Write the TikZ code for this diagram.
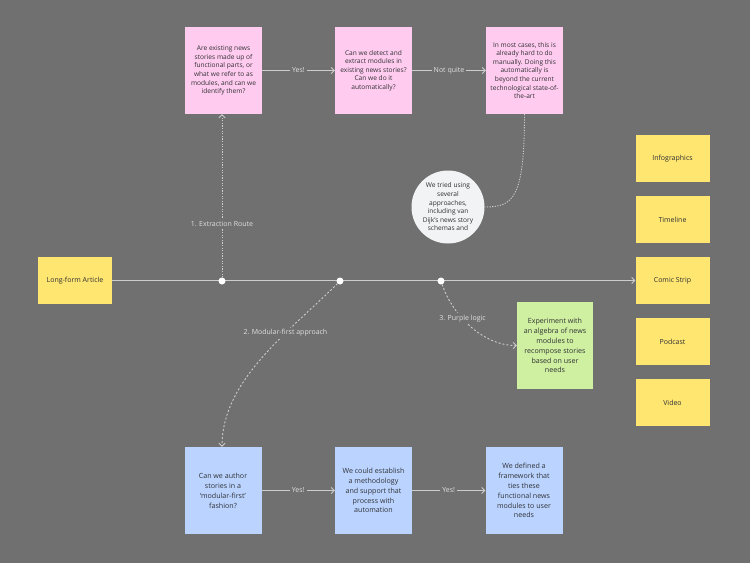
\documentclass[tikz,border=0pt]{standalone}
\usepackage{fontspec}
\setmainfont{Open Sans}
\usetikzlibrary{arrows.meta}
\definecolor{bg}{RGB}{112,112,112}
\definecolor{ink}{RGB}{48,48,52}
\definecolor{wire}{RGB}{205,205,205}
\definecolor{pinkcard}{RGB}{255,204,240}
\definecolor{bluecard}{RGB}{186,212,255}
\definecolor{greencard}{RGB}{206,240,160}
\definecolor{yellowcard}{RGB}{255,230,112}
\definecolor{bubblecol}{RGB}{242,243,245}
\begin{document}
\begin{tikzpicture}[x=1pt,y=-1pt,
  txt/.style={font=\fontsize{6.6}{8.6}\selectfont},
  bigtxt/.style={font=\fontsize{7.1}{9.9}\selectfont},
  lbl/.style={font=\fontsize{7}{8.6}\selectfont},
  card/.style={txt,minimum width=77pt,minimum height=87pt,inner sep=1pt,align=center,text=ink},
  bigcard/.style={card,bigtxt},
  outlet/.style={lbl,fill=yellowcard,minimum width=74pt,minimum height=47pt,inner sep=1pt,text=ink},
  bubble/.style={txt,circle,fill=bubblecol,minimum size=73pt,inner sep=0pt,align=center,text=ink},
  dot/.style={circle,fill=white,inner sep=0pt,minimum size=7pt},
  link/.style={draw=wire,line width=0.9pt,-{Straight Barb[length=3pt,width=6pt]}},
  dashline/.style={link,dash pattern=on 2pt off 2pt},
  dotline/.style={draw=wire,line width=0.9pt,dash pattern=on 1.2pt off 1.4pt},
  tag/.style={lbl,fill=bg,text=white!88!black,inner sep=2pt}]
\fill[bg] (0,0) rectangle (750,563);
\useasboundingbox (0,0) rectangle (750,563);
% top row
\node[card,fill=pinkcard] (q1) at (223.5,70.5) {Are existing news\\stories made up of\\functional parts, or\\what we refer to as\\modules, and can we\\identify them?};
\node[card,fill=pinkcard] (q2) at (373.5,70.5) {Can we detect and\\extract modules in\\existing news stories?\\Can we do it\\automatically?};
\node[card,fill=pinkcard] (q3) at (524.5,70.5) {In most cases, this is\\already hard to do\\manually. Doing this\\automatically is\\beyond the current\\technological state-of-\\the-art};
\draw[link] (q1) -- node[tag] {Yes!} (q2);
\draw[link] (q2) -- node[tag] {Not quite} (q3);
\node[bubble] (tried) at (448,207) {We tried using\\several\\approaches,\\including van\\Dijk's news story\\schemas and};
\draw[dotline] (q3.south) .. controls +(0,85) and +(28,0) .. (tried.east);
% main axis
\node[outlet] (article) at (75,280.5) {Long-form Article};
\foreach \name/\label/\y in {info/Infographics/158.5,time/Timeline/219.5,comic/Comic Strip/280.5,podcast/Podcast/341.5,video/Video/402.5}
  \node[outlet] (\name) at (672.5,\y) {\label};
\draw[link] (article) -- (comic);
\node[dot] (d1) at (222,281) {};
\node[dot] (d2) at (340,281) {};
\node[dot] (d3) at (441,281) {};
\draw[dotline,-{Straight Barb[length=3pt,width=6pt]}] (d1) -- node[tag,pos=0.33] {1. Extraction Route} (q1.south -| d1);
% bottom row
\node[bigcard,fill=bluecard] (a1) at (223,490.5) {Can we author\\stories in a\\`modular-first'\\fashion?};
\node[bigcard,fill=bluecard] (a2) at (373.5,490.5) {We could establish\\a methodology\\and support that\\process with\\automation};
\node[bigcard,fill=bluecard] (a3) at (524,490.5) {We defined a\\framework that\\ties these\\functional news\\modules to user\\needs};
\draw[link] (a1) -- node[tag] {Yes!} (a2);
\draw[link] (a2) -- node[tag] {Yes!} (a3);
\draw[dashline] (d2) .. controls +(-50,50) and +(0,-67) .. node[tag,pos=0.34] {2. Modular-first approach} (a1.north -| d1);
\node[bigcard,fill=greencard,minimum width=76pt] (algebra) at (555,345.5) {Experiment with\\an algebra of news\\modules to\\recompose stories\\based on user\\needs};
\draw[dashline] (d3) .. controls +(11,33) and +(-35,0) .. node[tag,pos=0.4] {3. Purple logic} (algebra.west);
\end{tikzpicture}
\end{document}
